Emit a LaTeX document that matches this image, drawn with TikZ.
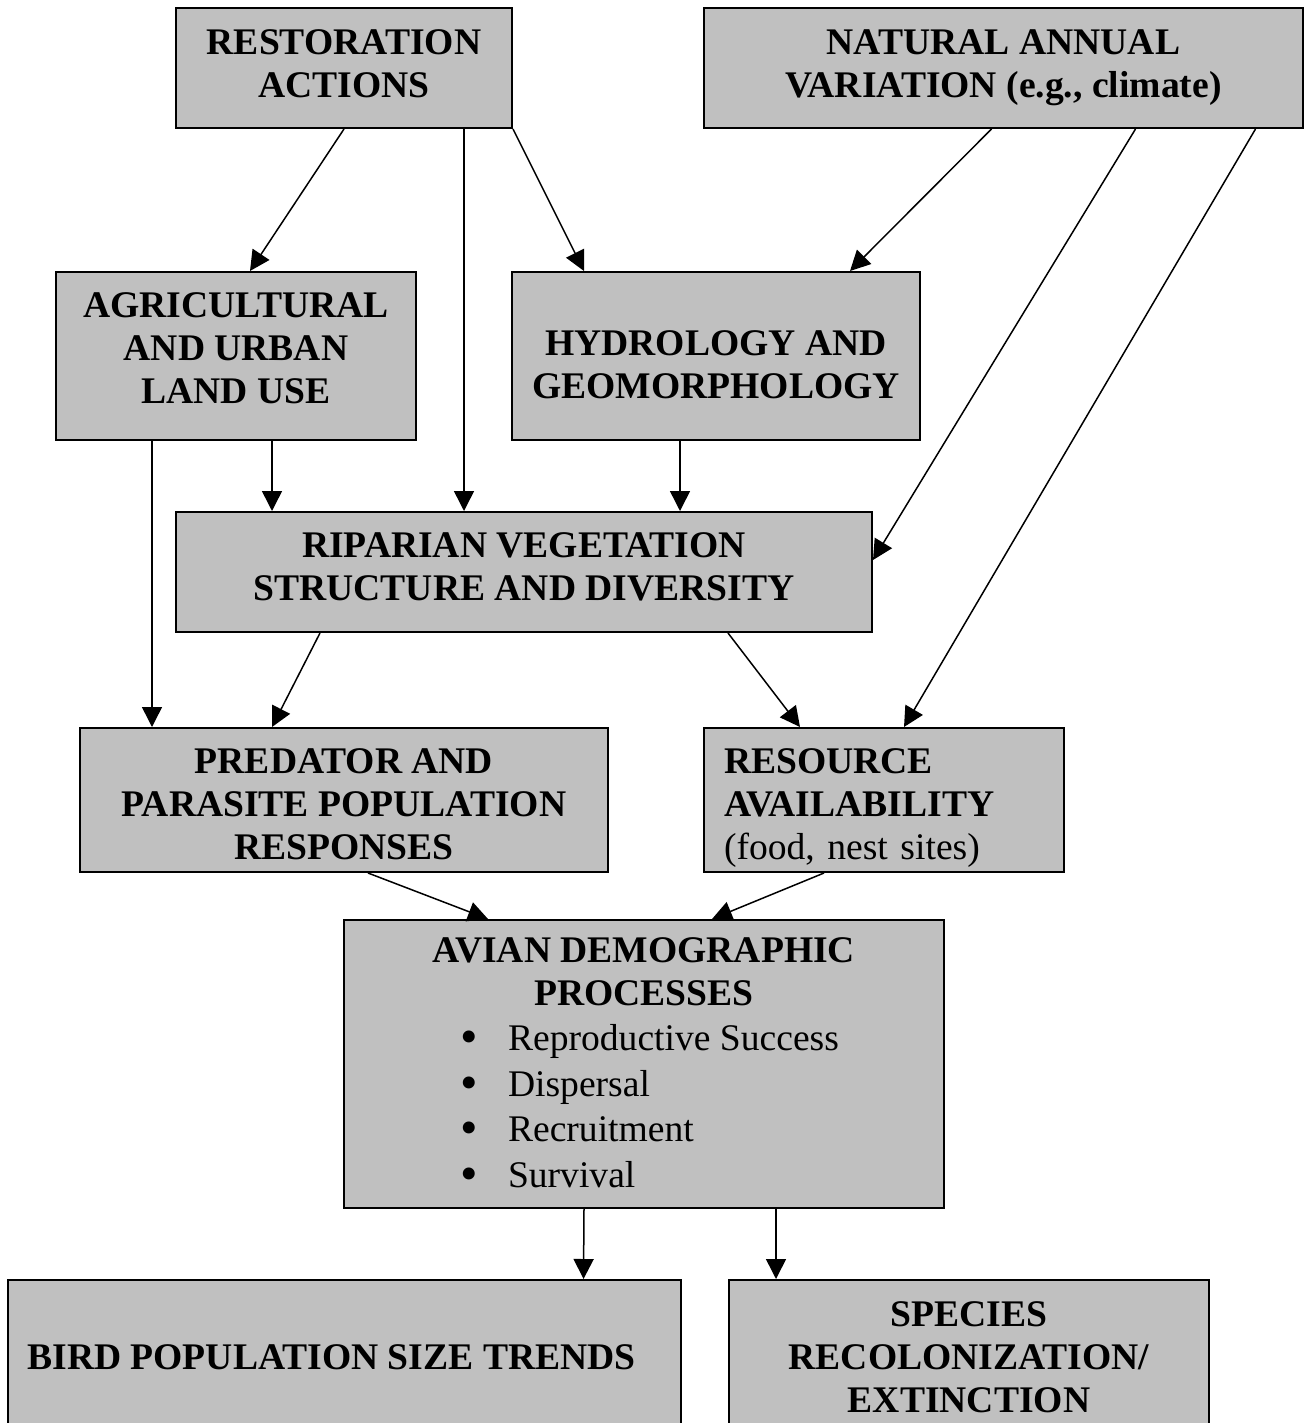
\documentclass[tikz,border=0pt]{standalone}
\usepackage{fontspec}
\setmainfont{Liberation Serif}
\usetikzlibrary{positioning,arrows.meta}
\definecolor{boxgray}{RGB}{192,192,192}
\newcommand{\blt}[1]{\makebox[184pt][l]{\mdseries\makebox[24pt][l]{\raisebox{-1.5pt}{\fontsize{25pt}{0pt}\selectfont\textbullet}}#1}}

\begin{document}
\begin{tikzpicture}[x=0.5pt,y=-0.5pt,
  box/.style={draw,line width=1pt,fill=boxgray,align=center,inner sep=0pt,
    font=\fontsize{18.8pt}{21.5pt}\selectfont\bfseries},
  arr/.style={-{Triangle[length=10pt,width=10pt]},line width=0.75pt}]
\useasboundingbox (0,0) rectangle (1304,1423);
% drivers
\node[box,minimum width=168pt,minimum height=60pt,text depth=4pt] (rest) at (344,68) {RESTORATION\\ACTIONS};
\node[box,minimum width=299.5pt,minimum height=60pt] (nat) at (1003.5,68) {NATURAL ANNUAL\\VARIATION (e.g., climate)};
% habitat
\node[box,minimum width=180pt,minimum height=84pt,text depth=8pt] (agri) at (236,356) {AGRICULTURAL\\AND URBAN\\LAND USE};
\node[box,minimum width=204pt,minimum height=84pt,text height=42.7pt] (hydro) at (716,356) {HYDROLOGY AND\\GEOMORPHOLOGY};
\node[box,minimum width=348pt,minimum height=60pt,text depth=5pt] (ripa) at (524,572) {RIPARIAN VEGETATION\\STRUCTURE AND DIVERSITY};
% responses
\node[box,minimum width=264pt,minimum height=72pt,text height=59.7pt] (pred) at (344,800) {PREDATOR AND\\PARASITE POPULATION\\RESPONSES};
\node[box,align=left,text width=160pt,inner xsep=10pt,minimum height=72pt,text depth=39pt] (reso) at (884,800) {RESOURCE\\AVAILABILITY\\\textmd{(food, nest sites)}};
\node[box,minimum width=300pt,minimum height=144pt] (avian) at (644,1064) {AVIAN DEMOGRAPHIC\\PROCESSES\\[1.25pt]
  \blt{Reproductive Success}\\[1.25pt]
  \blt{Dispersal}\\[1.25pt]
  \blt{Recruitment}\\[1.25pt]
  \blt{Survival}};
% outcomes
\node[box,minimum width=336.5pt,minimum height=77pt] (bird) at (344.5,1357) {BIRD POPULATION SIZE TRENDS\hspace*{13pt}};
\node[box,minimum width=240pt,minimum height=77pt] (spec) at (969,1357) {SPECIES\\RECOLONIZATION/\\EXTINCTION};
% links
\draw[arr] (rest.south) -- ([xshift=7pt]agri.north);
\draw[arr] ([xshift=60pt]rest.south) -- ([xshift=-30pt]ripa.north);
\draw[arr] (rest.south east) -- ([xshift=-66pt]hydro.north);
\draw[arr] ([xshift=-6pt]nat.south) -- ([xshift=67pt]hydro.north);
\draw[arr] ([xshift=66pt]nat.south) -- ([yshift=6pt]ripa.east);
\draw[arr] ([xshift=126pt]nat.south) -- ([xshift=10pt]reso.north);
\draw[arr] ([xshift=-42pt]agri.south) -- ([xshift=-96pt]pred.north);
\draw[arr] ([xshift=18pt]agri.south) -- ([xshift=-126pt]ripa.north);
\draw[arr] ([xshift=-18pt]hydro.south) -- ([xshift=78pt]ripa.north);
\draw[arr] ([xshift=-102pt]ripa.south) -- ([xshift=-36pt]pred.north);
\draw[arr] ([xshift=102pt]ripa.south) -- ([xshift=-42pt]reso.north);
\draw[arr] ([xshift=12pt]pred.south) -- ([xshift=-78pt]avian.north);
\draw[arr] ([xshift=-30pt]reso.south) -- ([xshift=34pt]avian.north);
\draw[arr] ([xshift=-30pt]avian.south) -- ([xshift=119.5pt]bird.north);
\draw[arr] ([xshift=66pt]avian.south) -- ([xshift=-96.5pt]spec.north);
\end{tikzpicture}
\end{document}
